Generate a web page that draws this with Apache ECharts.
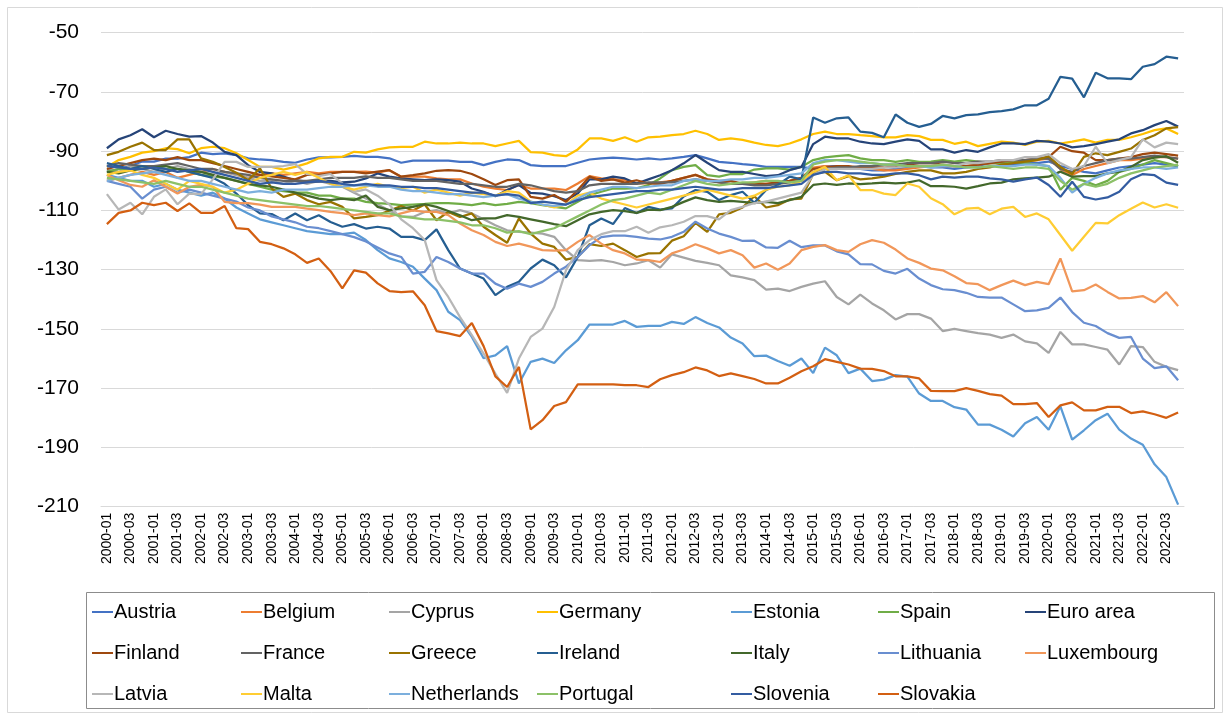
<!DOCTYPE html>
<html>
<head>
<meta charset="utf-8">
<script src="https://cdn.jsdelivr.net/npm/echarts@6/dist/echarts.min.js"></script>
<style>
html,body{margin:0;padding:0;background:#fff;}
#chart{width:1230px;height:715px;}
</style>
</head>
<body>
<div id="chart"></div>
<script>
// ---- categories (quarters) ----
const years = [];
for (let y = 2000; y <= 2022; y++) years.push(y);
const categories = [];
years.forEach(y => { ['01','02','03','04'].forEach(q => categories.push(y + '-' + q)); });

const yTicks = [-210,-190,-170,-150,-130,-110,-90,-70,-50];

// ---- series values ----
const austria = [-97,-96,-95,-93.5, -93.5,-92.5,-92.5,-92, -90.5,-91,-90.7,-91.3, -92.4,-92.8,-93,-93.6, -93.9,-92.8,-92.1,-92.1, -91.9,-91.6,-91.9,-91.9, -92.4,-93.9,-93.2,-93.2, -93.2,-93.2,-93.6,-93.6, -94.7,-93.6,-92.8,-93, -94.7,-95,-95,-95, -93.9,-92.8,-92.4,-92.2, -92.4,-92.8,-92.4,-92.8, -92.4,-91.9,-91.3,-92.4, -93.6,-93.9,-94.4,-94.7, -95.3,-95.3,-95.3,-95.3, -96,-95,-95,-95.5, -96,-96.5,-96.5,-96, -95.5,-95,-95.5,-95.5, -96,-95.5,-95,-94, -94,-94.5,-94,-94, -93.5,-95,-96,-97, -97.5,-96.5,-95.5,-95, -94.5,-94,-94.5,-95];
const belgium = [-100,-99,-98,-97, -98,-97,-99,-98, -97,-96,-97,-98, -99,-98,-97.5,-98, -97.5,-97,-97.5,-97, -97,-97,-96.9,-97.2, -96.4,-98.6,-98.6,-98.6, -99.2,-99.5,-99.5,-100.9, -102,-102.6,-103.1,-101.4, -102.6,-102.6,-102.6,-103.1, -100.9,-98.4,-99.2,-99.5, -99.8,-100.9,-100.9,-100.5, -100,-99,-98,-99.5, -100.5,-101,-101,-100.5, -100,-100.5,-100,-99, -95.5,-95,-95.5,-95.5, -96,-96,-96.5,-96.5, -96,-95.5,-95,-95, -95,-95,-94.5,-94, -94,-93.5,-93.5,-93, -92.5,-96,-98,-96, -95,-94,-93,-93, -92.5,-92,-92,-92.5];
const cyprus = [-96,-97,-95,-96, -97,-96,-95,-96, -97,-98,-97,-98, -99,-100,-100,-101, -100,-101,-100,-101, -102,-104,-106,-108, -110,-112,-112.2,-110.5, -109.9,-111,-109.9,-111, -113,-115,-116.7,-117.2, -117.5,-117.8,-118.9,-123.4, -126.8,-127,-126.8,-127.4, -128.5,-127.9,-126.8,-129.3, -124.8,-125.9,-127,-127.7, -128.5,-131.9,-132.6,-133.5, -136.7,-136.4,-137.2,-135.8, -134.7,-133.9,-139.2,-141.7, -138.4,-141.4,-143.7,-146.8, -145,-145,-146.5,-150.7, -150,-150.7,-151.4,-151.9, -153,-151.9,-154.2,-154.9, -158.1,-151,-155.2,-155.2, -156.1,-157,-162,-155.8, -156.1,-161.1,-162.8,-163.9];
const germany = [-95.3,-93,-91.9,-90.5, -90,-89,-89.3,-90.7, -89,-88.5,-89,-90.7, -93,-95.3,-95.3,-96.2, -95.3,-94.1,-92.4,-91.9, -91.9,-90.2,-90.5,-89.4, -88.7,-88.5,-88.5,-86.8, -87.4,-87.4,-87.1,-87.4, -87.4,-88.3,-87.4,-86.5, -90.3,-90.5,-91.3,-91.7, -89.4,-85.7,-85.7,-86.5, -85.3,-86.8,-85.3,-85.1, -84.6,-84.2,-83.1,-84.2, -86.2,-85.7,-86.2,-87.1, -87.9,-88.3,-87.4,-86, -84.2,-83.4,-84.2,-84.2, -84.6,-84.9,-85.3,-85.3, -84.6,-84.9,-86.2,-86.2, -87.5,-86.8,-88.3,-87.5, -86.8,-87.1,-87.9,-86.8, -86.5,-87.4,-86.8,-86, -87.1,-86.2,-86.2,-85.3, -84.2,-82.9,-82.3,-84.2];
const estonia = [-98,-99,-100,-100, -102,-101,-103,-104, -105,-104,-106,-109, -111,-113,-114,-115, -116,-117,-117.5,-118, -118,-117.5,-120,-123.4, -126.2,-127.4,-129,-133, -136.9,-144.2,-147,-152.7, -159.9,-158.9,-155.8,-168.4, -161.1,-160,-161.5,-157.2, -153.8,-148.5,-148.5,-148.5, -147.3,-149.3,-149,-149, -147.6,-148.3,-146,-148, -149.5,-152.9,-154.9,-159.2, -159,-160.8,-162.4,-160, -164.9,-156.3,-158.9,-164.9, -163.4,-167.6,-167.1,-165.6, -166.1,-171.8,-174.3,-174.3, -176.4,-177.2,-182.3,-182.3, -184,-186.3,-181.8,-179.7, -184,-176.1,-187.4,-184.2, -180.8,-178.6,-184,-187, -189.1,-195.7,-200,-209.3];
const spain = [-97,-96,-96,-95, -95,-96,-96,-97, -98,-98.5,-99,-100, -101,-102,-103,-103.5, -104,-104,-105,-105, -106,-106,-107.1,-107.5, -107.8,-108.2,-108,-107.8, -107.5,-107.5,-107.8,-108.2, -107.5,-108.2,-107.8,-107.1, -107.5,-108.2,-108.8,-109.3, -107.1,-104.8,-103.7,-102.6, -102.6,-102.5,-101.4,-99.2, -96.4,-95.3,-94.7,-98.1, -98.6,-97.7,-97.7,-96.2, -95.8,-95.8,-96.2,-95.3, -93,-92.1,-91.7,-91.3, -92.4,-93,-93,-93.6, -93,-93.6,-93.5,-93, -93.5,-93,-93.5,-94, -94,-93.5,-94,-94.5, -95,-103,-99,-100, -101.5,-100,-97,-96, -94.5,-93,-94,-95];
const euroArea = [-89,-86,-84.6,-82.6, -85.3,-83.1,-84.2,-85.1, -84.9,-87.1,-90.2,-91.3, -94.7,-97,-97.5,-98.6, -99.8,-100.3,-100.3,-100, -100.5,-100.3,-99.2,-97.5, -98.6,-99.2,-99.5,-99.8, -99.5,-99.8,-100.3,-102.6, -103.7,-105.2,-103.1,-101.4, -104.1,-104.3,-105.2,-106.5, -104.3,-99.5,-99.5,-98.6, -99.2,-100.9,-99.5,-98.1, -96.4,-94.1,-91.3,-93.9, -96.4,-97,-97,-97.7, -98.4,-98.1,-96.4,-95.3, -87.6,-85.1,-85.7,-85.7, -86.8,-87.4,-87.6,-86.8, -86,-86.5,-89.4,-89.4, -90.5,-89.6,-90.2,-88.7, -87.4,-87.4,-87.6,-86.5, -86.8,-87.4,-88.7,-88.3, -87.6,-86.8,-86,-84, -82.9,-81.2,-79.8,-81.7];
const finland = [-96,-95,-94,-93, -92.5,-93,-92,-93, -93,-94,-95,-96, -97,-98,-98.5,-99, -99.5,-98,-98,-97.5, -97,-97,-97.5,-96.9, -96.4,-98.6,-98.1,-97.5, -96.6,-96.4,-96.6,-97.7, -99.5,-101.4,-99.8,-99.5, -105.4,-106,-104.8,-107.1, -103.1,-98.6,-100,-99.5, -100.6,-99.8,-100.9,-101, -100,-99,-98,-99.5, -100,-100,-101,-101, -101,-100.5,-100,-99, -96,-95.5,-95,-95, -95.5,-95.5,-95.5,-95, -94.5,-94,-94,-94.5, -95,-95,-94.5,-94, -93.5,-93,-93,-92.5, -92,-88.5,-90,-90.5, -93,-93,-92.5,-92, -91,-90.5,-91,-91.5];
const france = [-95,-94,-94.5,-95, -95,-94.5,-94,-95, -96,-96,-97,-97.5, -98,-99,-99.5,-100, -100,-100,-99.5,-99, -99,-99,-98.5,-99, -99,-99.5,-100,-100, -100,-100.5,-101,-101, -101.5,-102,-102,-101, -101.5,-102.5,-103.5,-104, -103.5,-101.5,-101,-101, -101,-101,-100.5,-100.5, -100.5,-100,-99.5,-100, -100.5,-101,-101,-101.5, -101.5,-101,-100.5,-100, -97,-96,-95.5,-95.5, -95,-95,-94.5,-94.5, -94,-94,-94,-93.5, -94,-94,-93.5,-93.5, -93,-93,-93,-92.5, -92.5,-96,-97,-95, -94,-93,-92.5,-92.5, -92,-91.5,-92,-92.5];
const greece = [-91.3,-90.2,-88.5,-87.1, -89.6,-89.6,-86,-86, -92.4,-93.6,-95.3,-97.3, -99.8,-95.8,-102.6,-105.4, -104.3,-106.5,-107.9,-107.1, -108.8,-112.7,-112.2,-111.6, -110,-108.5,-110,-108, -113.3,-110.5,-112.2,-111, -115.5,-118.3,-120.9,-112.7, -117.8,-121.2,-122.3,-126.6, -125.7,-121.4,-122,-121.2, -123.4,-125.7,-124.5,-124.4, -120.2,-118.7,-114.2,-117.2, -111.3,-110.8,-109,-105.2, -109,-108.2,-106.3,-106, -97.7,-97,-99.8,-98.4, -99.5,-99.2,-98.6,-97.7, -97,-96.5,-96.5,-97.5, -97.5,-97,-96,-95.5, -94.5,-94,-93.5,-93, -91.7,-95.3,-97.7,-91.9, -90.7,-91.3,-90.2,-89.1, -86.2,-84.6,-82.3,-81.9];
const ireland = [-94,-95,-96,-95, -96,-97,-96,-97, -98,-99,-101,-104.3, -108.2,-111,-111.2,-113.3, -111,-113.3,-111.6,-113.9, -115.5,-114.6,-116.1,-115.5, -116.1,-118.9,-118.9,-120, -116.4,-123.4,-129.6,-131.3, -133,-138.6,-135.8,-134.1, -129.6,-126.6,-128.5,-132.6, -125.7,-115,-112.7,-114.6, -109.2,-110.9,-108.8,-109.7, -109.3,-105.3,-103.1,-103.7, -106.5,-104.8,-103.7,-107.4, -103.1,-101.4,-98.6,-99.5, -78.6,-80.4,-78.9,-78.6, -83.4,-83.8,-85.3,-77.6, -80.4,-81.8,-80.8,-78.1, -78.9,-77.8,-77.6,-76.8, -76.5,-75.9,-74.5,-74.5, -72.3,-64.9,-65.5,-71.8, -63.5,-65.4,-65.4,-65.7, -61.5,-60.6,-58.1,-58.7];
const italy = [-97,-97.5,-96.5,-96, -95.5,-95,-96,-96.5, -97,-98,-99,-100, -101,-101.5,-102,-103, -104,-105,-106,-106.5, -106,-106.5,-105,-108.8, -109.9,-109.3,-108.8,-107.9, -108.8,-110.2,-111.6,-113.3, -112.7,-112.7,-111.6,-112.2, -113,-113.8,-114.6,-115.3, -113.3,-111.3,-110.5,-109.9, -110.2,-110.8,-109.7,-109.9, -108.8,-107.1,-105.6,-106.5, -107.1,-106.8,-107.1,-107.5, -107.1,-107.5,-106.5,-105.4, -101.4,-100.9,-101.4,-100.9, -101.1,-100.9,-100.6,-100.9, -100.6,-99.8,-101.8,-101.8, -102,-102.6,-101.8,-100.9, -100.6,-99.5,-99.2,-98.9, -98.6,-96.9,-98.6,-98.4, -98.4,-97.5,-96.9,-95.3, -93,-92.2,-91.7,-93.9];
const lithuania = [-100,-101,-102,-106, -103,-102,-104,-103, -104,-105,-106,-107, -109,-110,-112,-113, -114,-115.5,-116,-117, -118,-119,-120.5,-122.5, -124.5,-125.7,-131.3,-130.7, -125.7,-127.4,-129.6,-131.3, -131.3,-134.7,-136.4,-134.7, -135.8,-134.1,-131.3,-129, -125.7,-121.7,-119,-118.5, -118.5,-118.9,-119.5,-119.8, -118.9,-117.2,-113.8,-116.1, -117.8,-118.9,-120.3,-120.2, -122.5,-122.6,-120.2,-122.4, -121.8,-121.8,-123.8,-124.8, -128.1,-128.2,-130.4,-131.3, -129.7,-133,-135.2,-136.6, -136.9,-137.8,-139.2,-139.4, -139.4,-141.7,-144,-143.7, -142.9,-139.4,-144.3,-147.9, -149,-151.4,-153,-152.7, -160,-163.2,-162.6,-167.3];
const luxembourg = [-98,-99.8,-101.4,-102, -99.8,-102,-104.3,-102, -101.4,-102,-107.1,-107.5, -107.5,-108,-108.8,-108.8, -108.8,-109.4,-109.9,-110.5, -110.9,-111.6,-111,-111.6, -112,-111,-110,-110.5, -110.5,-111.6,-114.4,-116.7, -118.3,-120.6,-122,-121.2, -122.2,-123.4,-123.6,-123.4, -120.6,-118.3,-121.2,-123.4, -124.5,-126.6,-126.8,-127.4, -124.5,-123.2,-121.4,-122.8, -124.5,-123.4,-125.1,-129.3, -127.9,-130,-127.9,-123.4, -122.3,-121.7,-123.4,-124, -121.4,-120,-120.9,-123.2, -126.2,-127.7,-129.6,-130.2, -132.2,-134.5,-134.9,-136.9, -135.2,-133.7,-135.2,-134.1, -134.9,-126.2,-137.3,-136.9, -135,-137.5,-139.7,-139.5, -138.9,-141,-137.6,-142.3];
const latvia = [-104.5,-109.7,-107.4,-111.3, -105.4,-102.9,-107.9,-104.3, -104.5,-99.5,-93.6,-93.6, -95.3,-95.3,-95.3,-95, -94.4,-97.7,-98.4,-97.7, -100.9,-103.7,-102.9,-105, -108,-113,-116,-120, -133.5,-139.2,-146,-152.1, -158.3,-165.1,-171.6,-160, -152.7,-149.9,-142.6,-130.2, -123.4,-120,-118,-117, -117,-115.5,-117.5,-115.7, -115,-113.8,-111.9,-111.9, -113,-109.9,-108.8,-107.5, -107,-106,-105,-104, -98,-96,-96,-96, -96,-96,-95.5,-95.5, -95,-95,-95,-94.5, -95,-94,-94,-93.5, -93,-93,-92,-92, -91,-94,-96,-95, -88.5,-94,-93,-92, -86,-88.7,-87.1,-87.6];
const malta = [-98,-97,-96.5,-98, -99,-101,-103,-100, -101,-102,-104,-103, -101,-99,-98,-97, -98,-97,-99,-101, -102,-103,-102,-101, -102,-102.5,-102,-104, -103,-104,-105,-104, -104.5,-105,-103.5,-104, -107,-108,-109,-108, -105,-104,-106,-107, -108,-109,-108,-107, -106,-105,-104,-103, -104,-105,-106,-105, -103,-102,-101.5,-100, -97,-95.3,-99.8,-98.1, -103.1,-103.1,-104.3,-104.8, -100.9,-102,-105.9,-107.9, -111.3,-109.4,-109.1,-111.3, -109.4,-108.8,-112.2,-111, -113,-118.3,-123.6,-118.9, -114.2,-114.4,-111.6,-109.4, -107.3,-109,-107.9,-109.1];
const netherlands = [-100,-99,-98,-97.5, -97,-98,-99,-100, -100,-101,-102,-103, -104,-103.5,-104,-103, -103,-103,-102.5,-102, -102,-101.5,-101.5,-102, -102,-103,-103.5,-103.5, -104,-104.5,-104.5,-105, -105.5,-105,-104.5,-106, -107,-108,-108.5,-108, -106,-104,-103,-102, -102,-102.5,-102,-101.5, -101.5,-100,-99.5,-100, -100,-99.5,-99.5,-99, -99,-98.5,-98,-97.5, -94,-93,-93,-93.5, -94,-94,-94.5,-94.5, -95,-95,-95.5,-95, -95,-95.5,-95.5,-95, -95,-95,-94.5,-94.5, -95,-99,-104,-101, -99,-97.5,-96.5,-96, -95.5,-95.5,-96,-95.5];
const portugal = [-99,-99.5,-100,-100.5, -101,-100,-101,-102, -102,-103,-104,-105, -106,-106.5,-107,-107.5, -108,-108.5,-108.5,-109, -109.5,-110,-110.5,-111, -111,-112,-112.5,-113, -113,-113.5,-114,-115, -115,-116,-117.5,-117, -118,-117,-116,-114, -112,-110,-108,-106.5, -106,-105,-104,-104.5, -103,-101.5,-100,-101, -101.5,-101,-100.5,-100.5, -100,-100,-100.5,-100, -94.5,-93.5,-93,-93, -93.5,-94,-94.5,-94.5, -95,-95,-95,-94.5, -95,-95.5,-95.5,-95, -95.5,-96,-95.5,-95.5, -96,-100,-103,-101, -102,-101,-99,-97.5, -96.5,-95.5,-95,-94.5];
const slovenia = [-95,-95.5,-96,-96, -95.5,-96,-97,-96.5, -96,-97,-98,-99, -100,-101,-100.5,-101, -101,-100.5,-100,-100.5, -101,-101.5,-101,-101.5, -101.5,-102,-102,-102.5, -102.5,-103,-103.5,-104, -104,-105,-104.5,-105, -107.5,-107,-107.5,-108, -106.5,-105.5,-105,-104.5, -104,-103.5,-103.5,-103, -103,-102.5,-102,-102.5, -103,-103,-102.5,-102.5, -102.5,-102,-101.5,-101, -98,-97,-97,-97.5, -97.5,-98,-98,-97.5, -97.5,-98.1,-99.5,-98.6, -98.9,-98.6,-98.6,-99.2, -99.5,-100.3,-99.5,-98.9, -101.4,-105.4,-100.3,-105.4, -106.3,-105.6,-103.7,-99.5, -97.7,-98.1,-100.6,-101.4];
const slovakia = [-114.6,-110.8,-110,-107.4, -108.2,-107.4,-110.2,-107.6, -110.8,-110.8,-108.5,-116, -116.3,-120.6,-121.4,-122.8, -124.8,-127.7,-126.2,-130.5, -136.3,-130.2,-131,-134.6, -137.2,-137.6,-137.3,-142, -150.7,-151.5,-152.4,-148, -155.8,-166,-169.6,-162.8, -183.9,-180.8,-176,-174.7, -168.7,-168.7,-168.7,-168.7, -169,-169,-169.6,-167, -165.6,-164.6,-163,-164, -165.9,-165,-165.9,-166.9, -168.4,-168.4,-166.5,-164.3, -162.6,-160.2,-161.1,-162, -163.4,-163.5,-164.2,-166, -166,-166.7,-170.9,-171, -171,-170,-170.9,-172, -172.5,-175.4,-175.4,-175, -179.7,-175.8,-174.8,-177.5, -177.5,-176.3,-176.3,-178.4, -177.8,-178.8,-180,-178.2];

const seriesNames = ['Austria','Belgium','Cyprus','Germany','Estonia','Spain','Euro area',
  'Finland','France','Greece','Ireland','Italy','Lithuania','Luxembourg',
  'Latvia','Malta','Netherlands','Portugal','Slovenia','Slovakia'];
const seriesData = [austria,belgium,cyprus,germany,estonia,spain,euroArea,
  finland,france,greece,ireland,italy,lithuania,luxembourg,
  latvia,malta,netherlands,portugal,slovenia,slovakia];
const seriesColors = ['#4472C4','#ED7D31','#A5A5A5','#FFC000','#5B9BD5','#70AD47','#264478',
  '#9E480E','#636363','#997300','#255E91','#43682B','#698ED0','#F1975A',
  '#B7B7B7','#FFCD33','#7CAFDD','#8CC168','#335CA1','#D35F12'];

// legend layout: 7 columns, 3 rows (Excel order, row-wise)
const colLeft = [92, 241, 389, 537, 731, 878, 1025];
const legends = colLeft.map((x, c) => ({
  orient: 'vertical',
  left: x,
  top: 602,
  itemWidth: 21,
  itemHeight: 2,
  itemGap: 21,
  icon: 'rect',
  selectedMode: false,
  padding: 0,
  textStyle: { fontFamily: 'Liberation Sans', fontSize: 20, color: '#000', lineHeight: 20, padding: [0,0,0,-4] },
  data: [0,1,2].map(r => seriesNames[r*7 + c]).filter(n => n !== undefined)
}));

const chart = echarts.init(document.getElementById('chart'), null, { renderer: 'canvas' });
chart.setOption({
  animation: false,
  backgroundColor: '#fff',
  color: seriesColors,
  legend: legends,
  graphic: [
    { type: 'rect', shape: { x: 7.5, y: 7.5, width: 1215, height: 705 }, style: { fill: 'none', stroke: '#D9D9D9', lineWidth: 1 }, silent: true, z: -1 },
    { type: 'rect', shape: { x: 86.5, y: 592.5, width: 1128, height: 116 }, style: { fill: 'none', stroke: '#8C8C8C', lineWidth: 1 }, silent: true }
  ],
  grid: { left: 101, right: 46, top: 32.7, bottom: 208.3, containLabel: false },
  xAxis: {
    type: 'category',
    data: categories,
    boundaryGap: true,
    axisLine: { show: true, lineStyle: { color: '#D9D9D9' } },
    axisTick: { show: false },
    axisLabel: { interval: 1, rotate: 90, fontFamily: 'Liberation Sans', fontSize: 14, color: '#000', margin: 6 }
  },
  yAxis: {
    type: 'value',
    min: yTicks[0], max: yTicks[yTicks.length-1], interval: 20,
    axisLine: { show: false },
    axisTick: { show: false },
    axisLabel: { fontFamily: 'Liberation Sans', fontSize: 21, color: '#000', margin: 22 },
    splitLine: { lineStyle: { color: '#D9D9D9', width: 1 } }
  },
  series: seriesNames.map((n, i) => ({
    name: n,
    type: 'line',
    data: seriesData[i],
    symbol: 'none',
    lineStyle: { width: 2.25, color: seriesColors[i] },
    itemStyle: { color: seriesColors[i] }
  }))
});
</script>
</body>
</html>
